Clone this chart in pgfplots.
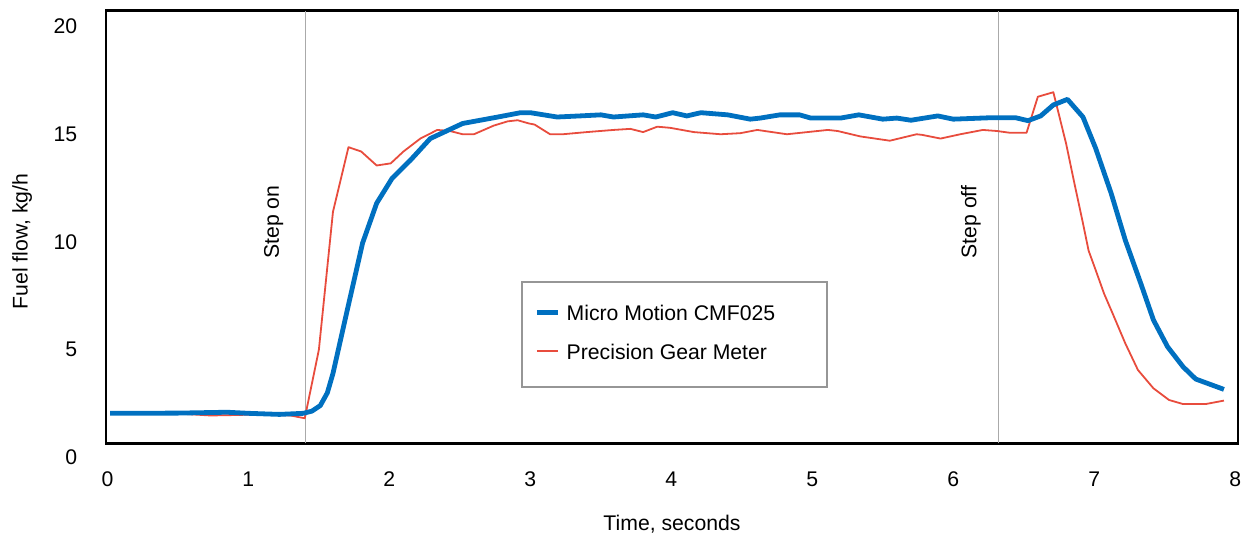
\documentclass[border=0pt]{standalone}
\usepackage{fontspec}
\setmainfont{Liberation Sans}
\usepackage{pgfplots}
\pgfplotsset{compat=1.18}
\definecolor{mmblue}{RGB}{0,112,192}
\definecolor{pgred}{RGB}{232,76,61}
\definecolor{stepgray}{RGB}{170,170,170}
\definecolor{leggray}{RGB}{150,150,150}
\begin{document}
\fontsize{10.6}{12.7}\selectfont
\begin{tikzpicture}
\path[use as bounding box] (0,0) rectangle (622.5pt,267.5pt);
\begin{axis}[
  at={(53pt,45.85pt)}, anchor=south west,
  scale only axis, width=566pt, height=216.3pt,
  xmin=-0.01, xmax=8.02, ymin=0.659, ymax=20.733,
  xtick={0,1,2,3,4,5,6,7,8}, ytick={5,10,15,20},
  major tick length=0pt, tick style={draw=none},
  axis line style={line width=1.3pt, black},
  clip=false,
  /pgf/number format/assume math mode=true,
  ticklabel style={font=\fontsize{10.6}{12.7}\selectfont},
  yticklabel style={anchor=east, inner sep=0pt, xshift=-14.25pt},
  xticklabel style={anchor=center, inner sep=0pt, yshift=-17.85pt},
  xlabel={Time, seconds},
  ylabel={Fuel flow, kg/h},
  every axis x label/.style={at={(axis description cs:0.5,-0.2018)}, anchor=base},
  every axis y label/.style={at={(axis description cs:-0.0693,0.4665)}, anchor=base, rotate=90},
  legend style={at={(axis description cs:0.3781,0.3306)}, anchor=north west,
    draw=none, fill=none, inner sep=0pt, row sep=7.8pt,
    nodes={inner sep=2pt, text height=7.7pt, text depth=0pt},
    /tikz/every odd column/.append style={column sep=1.25pt}},
  legend cell align=left,
  reverse legend,
  legend image code/.code={\draw[#1] (0pt,0pt) -- (10.5pt,0pt);},
]
\addplot[stepgray, line width=0.5pt, forget plot] coordinates {(1.402,0.659) (1.402,20.733)};
\addplot[stepgray, line width=0.5pt, forget plot] coordinates {(6.32,0.659) (6.32,20.733)};

\addplot[pgred, line width=0.9pt, line join=round] coordinates {
(0.02,2.05) (0.5,2.04) (0.73,1.95) (0.9,1.97) (1.1,2.0) (1.3,1.95) (1.40,1.82)
(1.50,5.0) (1.60,11.4) (1.71,14.4) (1.80,14.2) (1.91,13.55) (2.01,13.65) (2.10,14.2)
(2.22,14.8) (2.34,15.2) (2.43,15.15) (2.52,15.0) (2.60,15.0) (2.74,15.4) (2.84,15.6)
(2.91,15.65) (2.99,15.5) (3.03,15.45) (3.14,15.0) (3.23,15.0) (3.40,15.1) (3.59,15.2)
(3.71,15.25) (3.80,15.1) (3.90,15.35) (3.99,15.3) (4.16,15.1) (4.35,15.0) (4.49,15.05)
(4.61,15.2) (4.82,15.0) (5.11,15.2) (5.18,15.15) (5.34,14.9) (5.55,14.7) (5.74,15.0)
(5.78,14.97) (5.91,14.8) (6.05,15.0) (6.21,15.2) (6.31,15.15) (6.40,15.07) (6.52,15.07)
(6.60,16.74) (6.71,16.95) (6.80,14.58) (6.86,12.7) (6.92,10.87) (6.96,9.6) (7.01,8.7) (7.07,7.6) (7.13,6.69) (7.22,5.30)
(7.31,4.06) (7.42,3.21) (7.53,2.67) (7.63,2.48) (7.79,2.48) (7.92,2.64)
};
\addlegendentry{Precision Gear Meter}

\addplot[mmblue, line width=2.4pt, line join=round] coordinates {
(0.02,2.05) (0.5,2.06) (0.85,2.1) (1.0,2.05) (1.22,2.0) (1.39,2.05) (1.45,2.15)
(1.51,2.41) (1.56,3.0) (1.60,3.9) (1.70,6.8) (1.81,9.95) (1.91,11.8) (2.02,12.96)
(2.15,13.8) (2.29,14.8) (2.52,15.5) (2.77,15.8) (2.93,16.0) (3.0,16.0) (3.19,15.8)
(3.35,15.85) (3.50,15.9) (3.59,15.8) (3.80,15.9) (3.89,15.8) (4.01,16.0) (4.11,15.85)
(4.21,16.0) (4.40,15.9) (4.56,15.7) (4.63,15.75) (4.77,15.9) (4.91,15.9) (4.99,15.75)
(5.20,15.75) (5.33,15.9) (5.50,15.7) (5.60,15.75) (5.70,15.65) (5.89,15.85) (6.0,15.7)
(6.28,15.77) (6.44,15.77) (6.53,15.63) (6.62,15.85) (6.71,16.36) (6.81,16.62)
(6.92,15.8) (7.01,14.35) (7.12,12.26) (7.22,10.09) (7.33,8.08) (7.42,6.38)
(7.52,5.14) (7.63,4.21) (7.72,3.64) (7.92,3.16)
};
\addlegendentry{Micro Motion CMF025}

\node[anchor=east, inner sep=0pt, xshift=-14.25pt] at (axis cs:-0.01,0) {0};
\node[rotate=90, anchor=base] at (axis cs:1.217,10.93) {Step on};
\node[rotate=90, anchor=base] at (axis cs:6.164,10.93) {Step off};
\draw[leggray, line width=1pt] (axis description cs:0.3672,0.3722) rectangle (axis description cs:0.6367,0.1294);
\end{axis}
\end{tikzpicture}
\end{document}
